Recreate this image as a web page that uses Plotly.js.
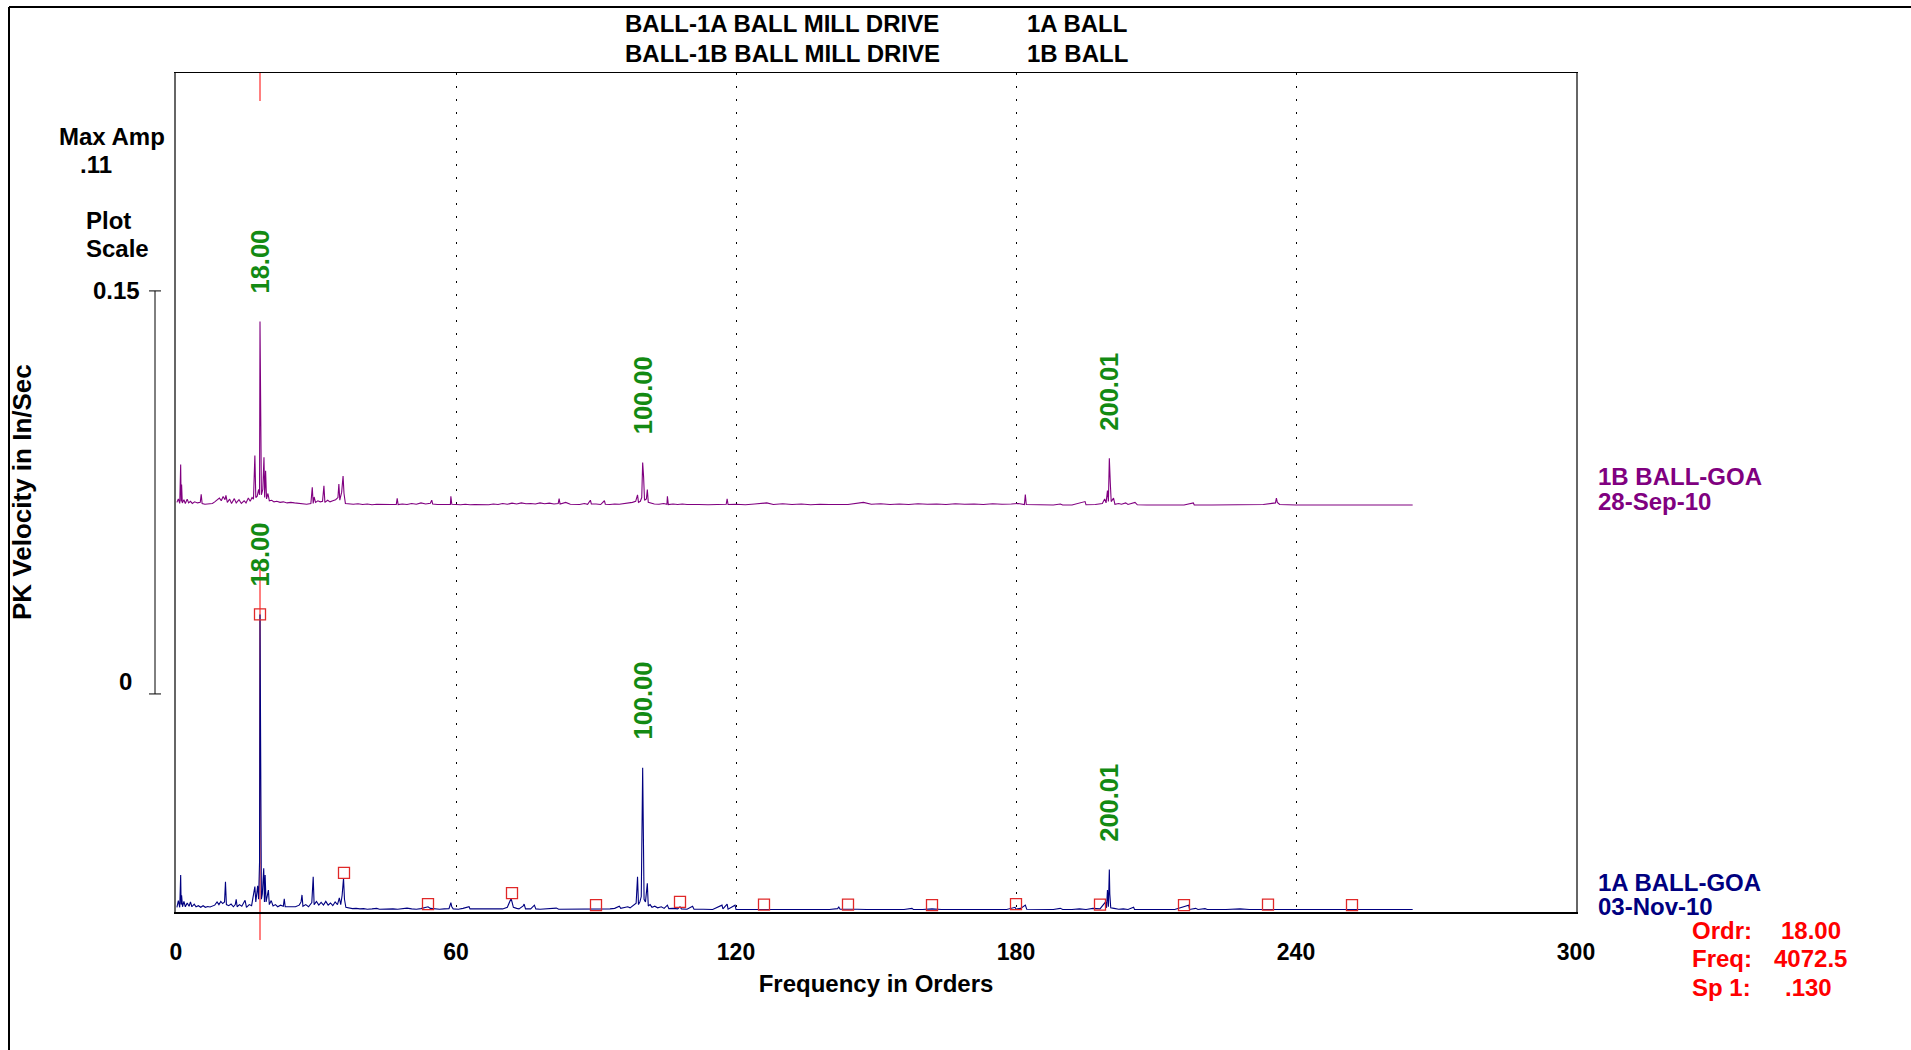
<!DOCTYPE html>
<html><head><meta charset="utf-8">
<script src="https://cdn.plot.ly/plotly-3.0.1.min.js"></script>
<style>html,body{margin:0;padding:0;background:#fff;overflow:hidden}#chart{width:1911px;height:1050px}</style>
</head><body><div id="chart"></div>
<script>
// ---------------- DATA ----------------
const headerLeft  = ['BALL-1A BALL MILL DRIVE', 'BALL-1B BALL MILL DRIVE'];
const headerRight = ['1A BALL', '1B BALL'];
const seriesNames = ['1B BALL-GOA', '1A BALL-GOA'];
const seriesDates = ['28-Sep-10', '03-Nov-10'];
const xTickVals   = [0, 60, 120, 180, 240, 300];
const xTickText   = ['0', '60', '120', '180', '240', '300'];
const scaleBarLabels = ['0', '0.15'];
const scaleBarValue  = 0.15;
const peakOrders  = [18.00, 100.00, 200.01];
const cursorOrder = 18.00;
const cursorFreq  = '4072.5';
const cursorSp1   = '.130';
const harmonicOrders = [18, 36, 54, 72, 90, 108, 126, 144, 162, 180, 198, 216, 234, 252];
const harmonicMarkAmp = [0.110, 0.0138, 0.0022, 0.0063, 0.0018, 0.0030, 0.0020, 0.0020, 0.0018, 0.0022, 0.0020, 0.0018, 0.0020, 0.0018];

// 1B BALL-GOA (28-Sep-10) spectrum: [order, PK in/sec]
const spec1B = [
[0.2,0.0012],[0.5,0.0025],[0.8,0.0008],[1.0,0.0153],[1.1,0.0015],[1.2,0.0078],[1.35,0.0010],[1.7,0.0022],[2.0,0.0008],[2.4,0.0024],[2.7,0.0010],[3.1,0.0016],[3.5,0.0008],[4.0,0.0014],[4.6,0.0010],[5.2,0.0012],[5.4,0.0042],[5.6,0.0008],[6.2,0.0005],[7.0,0.0006],[7.8,0.0008],[8.3,0.0014],[8.8,0.0020],[9.3,0.0028],[9.7,0.0018],[10.1,0.0034],[10.5,0.0022],[10.7,0.0038],[11.0,0.0012],[11.5,0.0024],[11.9,0.0008],[12.5,0.0026],[12.9,0.0010],[13.5,0.0022],[14.0,0.0008],[14.6,0.0018],[15.0,0.0010],[15.5,0.0028],[15.9,0.0016],[16.3,0.0030],[16.6,0.0024],[16.9,0.0186],[17.1,0.0030],[17.4,0.0035],[17.7,0.0060],[17.9,0.0040],[18.0,0.0685],[18.05,0.0570],[18.15,0.0250],[18.3,0.0040],[18.6,0.0060],[18.85,0.0180],[19.0,0.0030],[19.2,0.0130],[19.4,0.0025],[19.7,0.0045],[20.0,0.0018],[20.5,0.0020],[21.0,0.0014],[21.6,0.0016],[22.3,0.0012],[23.0,0.0014],[23.8,0.0010],[24.6,0.0012],[25.4,0.0010],[26.2,0.0009],[27.0,0.0006],[28.0,0.0005],[28.9,0.0008],[29.2,0.0068],[29.4,0.0008],[29.6,0.0032],[29.9,0.0012],[30.4,0.0018],[30.9,0.0014],[31.4,0.0016],[31.7,0.0074],[31.9,0.0012],[32.5,0.0020],[33.0,0.0014],[33.6,0.0018],[34.2,0.0022],[34.7,0.0030],[34.9,0.0080],[35.1,0.0020],[35.5,0.0050],[35.8,0.0110],[36.0,0.0045],[36.3,0.0008],[37.0,0.0006],[38.0,0.0005],[39.0,0.0007],[40.0,0.0004],[41.0,0.0006],[42.0,0.0003],[43.0,0.0005],[44.0,0.0004],[45.0,0.0003],[46.0,0.0004],[47.2,0.0004],[47.4,0.0027],[47.6,0.0004],[48.5,0.0006],[49.5,0.0004],[50.5,0.0008],[51.5,0.0005],[52.5,0.0010],[53.5,0.0006],[54.5,0.0009],[54.8,0.0020],[55.0,0.0006],[56.0,0.0004],[57.0,0.0004],[58.0,0.0005],[58.8,0.0004],[58.9,0.0035],[59.1,0.0005],[60.0,0.0004],[61.0,0.0003],[62.0,0.0005],[63.0,0.0003],[64.0,0.0004],[65.0,0.0003],[66.0,0.0002],[67.0,0.0003],[68.0,0.0006],[69.0,0.0004],[70.0,0.0008],[71.0,0.0005],[72.0,0.0009],[73.0,0.0006],[74.0,0.0010],[75.0,0.0007],[76.0,0.0008],[77.0,0.0006],[78.0,0.0010],[79.0,0.0007],[80.0,0.0009],[81.0,0.0006],[81.9,0.0008],[82.1,0.0026],[82.3,0.0006],[83.5,0.0012],[84.5,0.0005],[85.5,0.0005],[86.5,0.0004],[87.5,0.0008],[88.2,0.0005],[88.8,0.0020],[89.0,0.0006],[90.0,0.0006],[91.0,0.0004],[91.8,0.0018],[92.0,0.0005],[93.0,0.0004],[94.0,0.0006],[95.0,0.0005],[96.0,0.0007],[97.0,0.0008],[97.8,0.0012],[98.5,0.0016],[98.9,0.0040],[99.1,0.0012],[99.5,0.0016],[99.8,0.0030],[100.0,0.0160],[100.2,0.0107],[100.4,0.0020],[100.8,0.0025],[101.0,0.0060],[101.2,0.0012],[101.8,0.0008],[102.5,0.0006],[103.5,0.0005],[104.5,0.0008],[105.2,0.0005],[105.3,0.0035],[105.5,0.0004],[106.5,0.0006],[107.5,0.0004],[108.5,0.0006],[109.5,0.0004],[110.5,0.0005],[112,0.0004],[114,0.0003],[116,0.0004],[117.9,0.0005],[118.1,0.0025],[118.3,0.0004],[120,0.0005],[122,0.0003],[124,0.0006],[126.6,0.0010],[128,0.0004],[130,0.0007],[132,0.0004],[134,0.0006],[136,0.0003],[138,0.0005],[140,0.0004],[142,0.0003],[144,0.0004],[147.3,0.0012],[149,0.0005],[151,0.0007],[153,0.0004],[155,0.0006],[157,0.0004],[159,0.0007],[161,0.0005],[163,0.0006],[165,0.0004],[167,0.0007],[169,0.0005],[171,0.0006],[173,0.0004],[175,0.0007],[177,0.0005],[179,0.0006],[180.5,0.0008],[181.8,0.0004],[182.0,0.0041],[182.2,0.0004],[184,0.0003],[186,0.0003],[188,0.0002],[189.5,0.0006],[190,0.0002],[192,0.0002],[194.8,0.0015],[195,0.0003],[197,0.0004],[198.5,0.0008],[199.0,0.0025],[199.3,0.0010],[199.6,0.0056],[199.8,0.0015],[200.0,0.0176],[200.2,0.0087],[200.4,0.0015],[200.9,0.0028],[201.2,0.0005],[202.0,0.0008],[202.6,0.0005],[203.5,0.0010],[204,0.0004],[205.5,0.0012],[206,0.0003],[208,0.0002],[210,0.0003],[212,0.0002],[214,0.0002],[216,0.0002],[218,0.0010],[218.2,0.0002],[222,0.0002],[226,0.0003],[230,0.0002],[233,0.0004],[235.6,0.0010],[235.8,0.0028],[236.0,0.0012],[236.5,0.0004],[240,0.0002],[245,0.0002],[250,0.0002],[255,0.0002],[260,0.0002],[265,0.0002]
];

// 1A BALL-GOA (03-Nov-10) spectrum: [order, PK in/sec]
const spec1A = [
[0.2,0.0010],[0.5,0.0035],[0.8,0.0010],[1.0,0.0130],[1.1,0.0020],[1.2,0.0055],[1.4,0.0012],[1.7,0.0032],[2.0,0.0012],[2.4,0.0026],[2.8,0.0014],[3.1,0.0030],[3.4,0.0012],[3.9,0.0022],[4.3,0.0012],[4.8,0.0016],[5.3,0.0010],[5.8,0.0016],[6.3,0.0010],[6.8,0.0013],[7.3,0.0011],[7.8,0.0016],[8.3,0.0018],[8.8,0.0030],[9.2,0.0020],[9.6,0.0032],[10.0,0.0024],[10.4,0.0030],[10.6,0.0105],[10.8,0.0020],[11.3,0.0016],[11.8,0.0022],[12.3,0.0012],[12.7,0.0020],[12.9,0.0040],[13.1,0.0012],[13.6,0.0020],[14.1,0.0014],[14.8,0.0036],[15.1,0.0010],[15.7,0.0020],[16.2,0.0016],[16.6,0.0060],[16.9,0.0087],[17.1,0.0030],[17.3,0.0070],[17.5,0.0090],[17.7,0.0040],[17.9,0.0177],[18.0,0.1100],[18.05,0.0890],[18.15,0.0460],[18.3,0.0040],[18.5,0.0060],[18.8,0.0155],[18.95,0.0030],[19.1,0.0130],[19.3,0.0030],[19.6,0.0050],[19.8,0.0074],[20.0,0.0020],[20.4,0.0035],[20.8,0.0015],[21.3,0.0020],[21.8,0.0012],[22.4,0.0018],[23.0,0.0014],[23.2,0.0042],[23.4,0.0012],[24.0,0.0012],[24.8,0.0014],[25.6,0.0012],[26.4,0.0018],[26.8,0.0030],[27.0,0.0056],[27.2,0.0014],[27.8,0.0020],[28.4,0.0012],[29.1,0.0028],[29.4,0.0124],[29.6,0.0020],[30.1,0.0032],[30.6,0.0018],[31.1,0.0028],[31.6,0.0018],[32.1,0.0032],[32.6,0.0018],[33.1,0.0026],[33.6,0.0016],[34.1,0.0030],[34.6,0.0020],[35.0,0.0045],[35.3,0.0020],[35.6,0.0055],[35.9,0.0118],[36.1,0.0040],[36.4,0.0010],[37.0,0.0008],[37.8,0.0005],[38.6,0.0006],[39.4,0.0004],[40.2,0.0005],[41.0,0.0003],[42.0,0.0004],[43.0,0.0006],[43.6,0.0003],[44.5,0.0004],[45.5,0.0003],[46.5,0.0004],[47.5,0.0003],[48.5,0.0005],[49.5,0.0007],[50.5,0.0004],[51.5,0.0003],[52.5,0.0005],[53.5,0.0008],[54.0,0.0012],[54.5,0.0006],[55.5,0.0004],[56.5,0.0003],[57.5,0.0004],[58.5,0.0005],[58.9,0.0027],[59.1,0.0012],[59.4,0.0004],[60.5,0.0003],[61.5,0.0006],[62.8,0.0012],[63.0,0.0004],[64,0.0004],[65,0.0003],[66,0.0005],[67,0.0004],[68,0.0003],[69,0.0005],[70,0.0004],[71.0,0.0010],[71.8,0.0043],[72.0,0.0030],[72.3,0.0010],[73,0.0006],[73.5,0.0004],[74.4,0.0015],[74.6,0.0022],[74.9,0.0004],[76,0.0004],[76.8,0.0018],[77.1,0.0004],[78,0.0003],[79,0.0004],[80,0.0003],[81.5,0.0007],[82,0.0003],[83,0.0003],[84,0.0002],[85,0.0003],[86,0.0002],[87,0.0002],[88,0.0002],[89,0.0003],[90,0.0004],[91,0.0002],[92,0.0002],[93,0.0004],[94,0.0006],[95.0,0.0014],[95.3,0.0006],[96,0.0008],[96.8,0.0012],[97.3,0.0008],[98.0,0.0018],[98.6,0.0025],[98.9,0.0124],[99.1,0.0020],[99.4,0.0030],[99.7,0.0050],[100.0,0.0529],[100.15,0.0343],[100.3,0.0040],[100.6,0.0030],[101.0,0.0099],[101.2,0.0015],[101.6,0.0020],[102.0,0.0010],[102.6,0.0014],[103.2,0.0008],[104.0,0.0012],[104.6,0.0006],[105.3,0.0018],[105.6,0.0005],[106.5,0.0006],[107.5,0.0004],[108.0,0.0012],[108.3,0.0004],[109.5,0.0003],[110.7,0.0014],[111,0.0003],[113,0.0003],[115,0.0002],[117.0,0.0018],[117.2,0.0004],[118.1,0.0022],[118.3,0.0003],[119.8,0.0018],[120,0.0002],[122,0.0002],[124,0.0002],[126,0.0004],[128,0.0002],[130,0.0002],[132,0.0002],[134,0.0002],[136,0.0002],[138,0.0002],[140,0.0002],[141.8,0.0005],[142.0,0.0012],[142.3,0.0003],[144,0.0004],[146,0.0003],[148,0.0002],[150,0.0002],[152,0.0002],[154,0.0002],[156,0.0002],[157.7,0.0006],[158,0.0002],[160,0.0002],[162,0.0004],[164,0.0002],[166,0.0002],[168,0.0002],[170,0.0002],[172,0.0002],[174,0.0002],[176,0.0002],[178,0.0002],[179.8,0.0010],[180,0.0003],[181,0.0006],[182.0,0.0018],[182.3,0.0003],[184,0.0002],[186,0.0003],[188,0.0002],[189.5,0.0006],[190,0.0002],[192,0.0002],[193.6,0.0004],[195,0.0002],[196.5,0.0006],[198,0.0004],[199.2,0.0030],[199.4,0.0008],[199.6,0.0074],[199.8,0.0012],[200.0,0.0151],[200.1,0.0060],[200.3,0.0008],[201.0,0.0006],[202,0.0003],[203,0.0004],[204,0.0002],[205.2,0.0010],[205.4,0.0002],[208,0.0002],[210,0.0002],[214,0.0002],[217.0,0.0018],[217.2,0.0002],[218.5,0.0006],[219,0.0002],[220.5,0.0005],[221,0.0002],[225,0.0002],[228,0.0004],[230,0.0002],[233,0.0003],[236,0.0002],[240,0.0002],[244,0.0003],[248,0.0002],[252,0.0002],[256,0.0003],[260,0.0002],[265,0.0002]
];

// ---------------- LAYOUT / STYLE ----------------
const W = 1911, H = 1050;
const M = {l: 176, r: 335, t: 73, b: 138};
const PW = W - M.l - M.r, PH = H - M.t - M.b;
const px2x = p => (p - M.l) / PW;          // pixel -> paper x
const px2y = p => (H - M.b - p) / PH;      // pixel -> paper y
const FONT = 'Liberation Sans, Arial, Helvetica, sans-serif';
const PURPLE = '#800080', NAVY = '#000080', GREEN = '#138a13', RED = '#ff0000';
const yRange = [-0.00075, 0.3115];
const offset1B = 0.1505;          // vertical stacking offset of upper spectrum
const scaleBarBase = 0.0804;      // where the scale bar's "0" sits on the stacked axis

const f = (size, color) => ({family: FONT, size: size, color: color, weight: 'bold'});
const TS = 24;

const x1B = spec1B.map(p => p[0]), y1B = spec1B.map(p => p[1] + offset1B);
const x1A = spec1A.map(p => p[0]), y1A = spec1A.map(p => p[1]);

const traces = [
  {x: x1B, y: y1B, type: 'scatter', mode: 'lines', line: {color: PURPLE, width: 1.1}, hoverinfo: 'skip'},
  {x: x1A, y: y1A, type: 'scatter', mode: 'lines', line: {color: NAVY, width: 1.1}, hoverinfo: 'skip'},
  {x: harmonicOrders, y: harmonicMarkAmp, type: 'scatter', mode: 'markers',
   marker: {symbol: 'square-open', size: 11, color: '#e02828', line: {width: 1.3, color: '#e02828'}}, hoverinfo: 'skip'}
];

const peakNear = (spec, o) => Math.max(...spec.filter(p => Math.abs(p[0] - o) < 0.6).map(p => p[1]));
const maxAmp = Math.max(...spec1A.map(p => p[1]), ...spec1B.map(p => p[1]));

const ann = [];
const addText = (text, x, y, font, opts) => ann.push(Object.assign({text: text, x: x, y: y, xref: 'paper', yref: 'paper',
  showarrow: false, font: font, xanchor: 'left', yanchor: 'middle'}, opts || {}));

// header
headerLeft.forEach((t, i) => addText(t, px2x(623), px2y(24 + 30 * i), f(TS, '#000')));
headerRight.forEach((t, i) => addText(t, px2x(1025), px2y(24 + 30 * i), f(TS, '#000')));
// left info block
addText('Max Amp', px2x(112), px2y(136), f(TS, '#000'), {xanchor: 'center'});
addText(maxAmp.toFixed(2).replace(/^0/, ''), px2x(96), px2y(164), f(TS, '#000'), {xanchor: 'center'});
addText('Plot', px2x(84), px2y(221), f(TS, '#000'));
addText('Scale', px2x(84), px2y(249), f(TS, '#000'));
// scale bar labels
ann.push({text: scaleBarLabels[1], xref: 'paper', yref: 'y', x: px2x(142), y: scaleBarBase + scaleBarValue,
  showarrow: false, xanchor: 'right', yanchor: 'middle', font: f(TS, '#000')});
ann.push({text: scaleBarLabels[0], xref: 'paper', yref: 'y', x: px2x(134), y: scaleBarBase,
  showarrow: false, xanchor: 'right', yanchor: 'middle', yshift: 12, font: f(TS, '#000')});
// y title
addText('PK Velocity in In/Sec', px2x(22), px2y(492), f(26, '#000'), {xanchor: 'center', textangle: -90});
// series labels at right
addText(seriesNames[0], px2x(1596), px2y(477), f(TS, PURPLE));
addText(seriesDates[0], px2x(1596), px2y(501), f(TS, PURPLE));
addText(seriesNames[1], px2x(1596), px2y(882), f(TS, NAVY));
addText(seriesDates[1], px2x(1596), px2y(906), f(TS, NAVY));
// cursor readout
const readLabels = ['Ordr:', 'Freq:', 'Sp 1:'];
const readVals = [cursorOrder.toFixed(2), cursorFreq, cursorSp1];
const readRight = [1843, 1849, 1834];
readLabels.forEach((t, i) => {
  addText(t, px2x(1690), px2y(930 + 28.5 * i), f(TS, RED));
  addText(readVals[i], px2x(readRight[i]), px2y(930 + 28.5 * i), f(TS, RED), {xanchor: 'right'});
});
// peak labels (green, rotated)
[[spec1B, offset1B], [spec1A, 0]].forEach(([spec, off]) => {
  peakOrders.forEach(o => ann.push({text: o.toFixed(2), x: o, y: peakNear(spec, o) + off, xref: 'x', yref: 'y',
    showarrow: false, textangle: -90, xanchor: 'center', yanchor: 'bottom', yshift: 26, font: f(25.5, GREEN)}));
});

const shapes = [
  // outer frame of the report
  {type: 'line', xref: 'paper', yref: 'paper', x0: px2x(9), x1: px2x(9), y0: px2y(7), y1: px2y(1060), line: {color: '#000', width: 2}},
  {type: 'line', xref: 'paper', yref: 'paper', x0: px2x(9), x1: px2x(1920), y0: px2y(7), y1: px2y(7), line: {color: '#000', width: 2}},
  // scale bar
  {type: 'line', xref: 'paper', yref: 'y', x0: px2x(155), x1: px2x(155), y0: scaleBarBase, y1: scaleBarBase + scaleBarValue, line: {color: '#000', width: 1}},
  {type: 'line', xref: 'paper', yref: 'y', x0: px2x(149), x1: px2x(161), y0: scaleBarBase + scaleBarValue, y1: scaleBarBase + scaleBarValue, line: {color: '#000', width: 1}},
  {type: 'line', xref: 'paper', yref: 'y', x0: px2x(149), x1: px2x(161), y0: scaleBarBase, y1: scaleBarBase, line: {color: '#000', width: 1}},
  // cursor at order 18
  {type: 'line', xref: 'x', yref: 'paper', x0: cursorOrder, x1: cursorOrder, y0: 1, y1: px2y(101), line: {color: RED, width: 1}},
  {type: 'line', xref: 'x', yref: 'paper', x0: cursorOrder, x1: cursorOrder, y0: px2y(940), y1: px2y(567), line: {color: RED, width: 1}, layer: 'below'}
];

const layout = {
  width: W, height: H, margin: M, paper_bgcolor: '#fff', plot_bgcolor: '#fff', showlegend: false,
  font: {family: FONT, color: '#000'},
  xaxis: {range: [0, 300], tickmode: 'array', tickvals: xTickVals, ticktext: xTickText,
    showgrid: true, gridcolor: '#000', gridwidth: 1, griddash: '2px,11px', zeroline: false,
    showline: true, mirror: true, linecolor: '#000', linewidth: 1.5,
    ticks: 'outside', ticklen: 19, tickcolor: 'rgba(0,0,0,0)', tickfont: f(23, '#000'),
    title: {text: 'Frequency in Orders', font: f(TS, '#000'), standoff: 11}, fixedrange: true},
  yaxis: {range: yRange, showgrid: false, zeroline: false, showticklabels: false, ticks: '',
    showline: true, mirror: true, linecolor: '#666', linewidth: 2, fixedrange: true},
  annotations: ann, shapes: shapes
};

Plotly.newPlot('chart', traces, layout, {staticPlot: true, displayModeBar: false});
</script></body></html>
